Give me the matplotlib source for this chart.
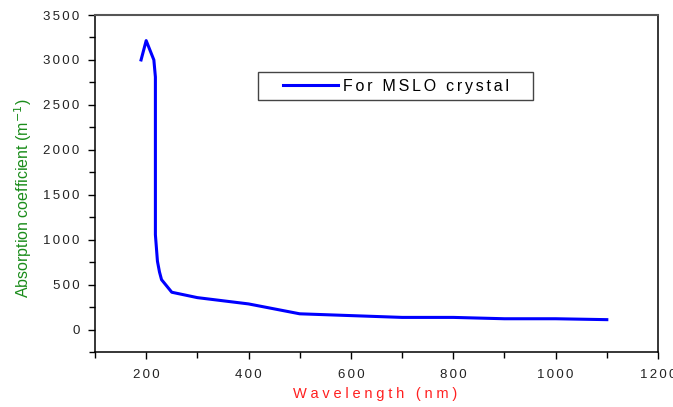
import matplotlib
matplotlib.use("Agg")
from matplotlib import pyplot as plt
from matplotlib.patches import Rectangle
from matplotlib.ticker import MultipleLocator, FuncFormatter

# absorption spectrum
wavelength = [190, 200, 215, 218, 218, 222, 226, 230, 250, 300, 400, 500, 700, 800, 900, 1000, 1100]
absorption = [3000, 3215, 3000, 2810, 1055, 760, 640, 555, 415, 355, 285, 175, 135, 135, 120, 120, 110]

series_label = "For MSLO crystal"
x_label = "Wavelength (nm)"
y_label = "Absorption coefficient (m$^{-1}$)"

SP = '\u200a'  # hair space, the original uses loose letter spacing


def spaced(s, n=1):
    return (SP * n).join(s)


plt.rcParams['font.family'] = ['Liberation Sans', 'DejaVu Sans']

fig = plt.figure(figsize=(6.73, 4.07), dpi=100)
ax = fig.add_axes([95 / 673, 55 / 407, 563 / 673, 337 / 407])

ax.plot(wavelength, absorption, color='#0000ff', lw=2.2, label=spaced(series_label, 2))

ax.set_xlim(100, 1200)
ax.set_ylim(-250, 3500)
ax.xaxis.set_major_locator(MultipleLocator(200))
ax.xaxis.set_minor_locator(MultipleLocator(100))
ax.yaxis.set_major_locator(MultipleLocator(500))
ax.yaxis.set_minor_locator(MultipleLocator(250))
fmt = FuncFormatter(lambda v, p: spaced(str(int(round(v))), 2))
ax.xaxis.set_major_formatter(fmt)
ax.yaxis.set_major_formatter(fmt)
ax.tick_params(which='both', direction='out', length=5, width=1, labelsize=9.5,
               top=False, right=False, colors='black', labelcolor='#222222')
ax.tick_params(axis='x', pad=7)
ax.tick_params(axis='y', pad=6)
ax.tick_params(which='minor', length=4)

for side in ['left', 'bottom', 'right']:
    ax.spines[side].set_linewidth(1.1)
    ax.spines[side].set_color('black')
ax.spines['top'].set_color('#555555')
ax.spines['top'].set_linewidth(1.5)

ax.set_xlabel(spaced(x_label, 3), color='#ff2020', fontsize=10.5)
ax.xaxis.set_label_coords(0.497, -0.105)
ax.set_ylabel(y_label, color='#1a8c1a', fontsize=11.5)
ax.yaxis.set_label_coords(-0.108, 0.457)

# legend frame drawn separately so the padding can match the original
ax.add_patch(Rectangle((0.2895, 0.748), 0.4885, 0.083, transform=ax.transAxes,
                       fill=False, edgecolor='#444444', lw=1.0, zorder=5))
leg = ax.legend(loc='center left', bbox_to_anchor=(0.3335, 0.789), frameon=False,
                fontsize=11.5, handlelength=3.45, borderpad=0, handletextpad=0.33,
                borderaxespad=0)

fig.savefig("out.png", dpi=100)
